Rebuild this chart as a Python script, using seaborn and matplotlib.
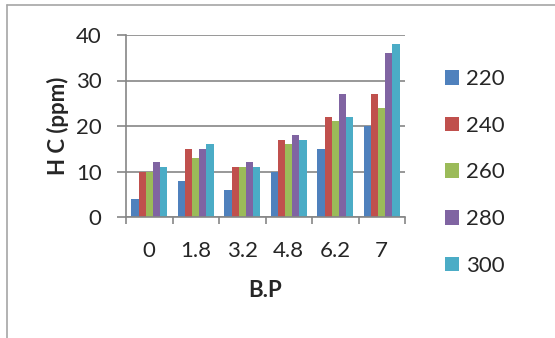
import matplotlib
matplotlib.use("Agg")
import matplotlib.pyplot as plt
import seaborn as sns
import pandas as pd
from matplotlib.lines import Line2D

categories = ["0", "1.8", "3.2", "4.8", "6.2", "7"]
series_names = ["220", "240", "260", "280", "300"]
s220 = [4, 8, 6, 10, 15, 20]
s240 = [10, 15, 11, 17, 22, 27]
s260 = [10, 13, 11, 16, 21, 24]
s280 = [12, 15, 12, 18, 27, 36]
s300 = [11, 16, 11, 17, 22, 38]
yticks = [0, 10, 20, 30, 40]
colors = ["#4F81BD", "#C0504D", "#9BBB59", "#8064A2", "#4BACC6"]

rows = []
for name, vals in zip(series_names, [s220, s240, s260, s280, s300]):
    for c, v in zip(categories, vals):
        rows.append({"BP": c, "HC": v, "T": name})
df = pd.DataFrame(rows)

sns.set_theme(style="white")
plt.rcParams['font.family'] = ['Lato', 'DejaVu Sans']

W, H = 555, 338
FS = 16
fig = plt.figure(figsize=(W / 100, H / 100), dpi=100)
ax = fig.add_axes([126 / W, 1 - 217 / H, (405 - 126) / W, (217 - 35) / H])

sns.barplot(data=df, x="BP", y="HC", hue="T", order=categories, hue_order=series_names,
            palette=colors, width=0.77, saturation=1, ax=ax, legend=True, edgecolor="none")

grid_c = "#868686"
ax.set_ylim(0, 40)
ax.set_xlim(-0.5, 5.5)
ax.set_yticks(yticks)
ax.set_yticklabels([str(t) for t in yticks], fontsize=FS)
ax.yaxis.grid(True, color=grid_c, linewidth=1.2)
ax.set_axisbelow(True)
for s in ["top", "right"]:
    ax.spines[s].set_visible(False)
for s in ["left", "bottom"]:
    ax.spines[s].set_color(grid_c)
    ax.spines[s].set_linewidth(1.2)

ax.tick_params(axis="y", which="major", left=True, length=6.5, width=1.2, color=grid_c, pad=11)
ax.set_xticks(range(len(categories)))
ax.set_xticklabels(categories, fontsize=FS)
ax.tick_params(axis="x", which="major", length=0, pad=17)
ax.set_xticks([i - 0.5 for i in range(len(categories) + 1)], minor=True)
ax.tick_params(axis="x", which="minor", bottom=True, length=5, width=1.2, color=grid_c)

ax.set_xlabel("B.P", fontsize=FS, fontweight="bold", labelpad=14)
ax.set_ylabel("H C (ppm)", fontsize=FS, fontweight="bold", labelpad=5)

handles, labels = ax.get_legend_handles_labels()
ax.get_legend().remove()
fig.legend(handles, labels, loc="center left", bbox_to_anchor=(445 / W, 1 - 172.5 / H),
           frameon=False, fontsize=FS, handlelength=0.65, handleheight=0.65,
           handletextpad=0.3, labelspacing=1.2, borderpad=0, borderaxespad=0)

border_c = "#A6A6A6"
fig.add_artist(Line2D([7 / W, 7 / W], [0, 1 - 5 / H], transform=fig.transFigure, color=border_c, linewidth=1.2))
fig.add_artist(Line2D([7 / W, 1], [1 - 5 / H, 1 - 5 / H], transform=fig.transFigure, color=border_c, linewidth=1.2))

fig.savefig("out.png", dpi=100)
